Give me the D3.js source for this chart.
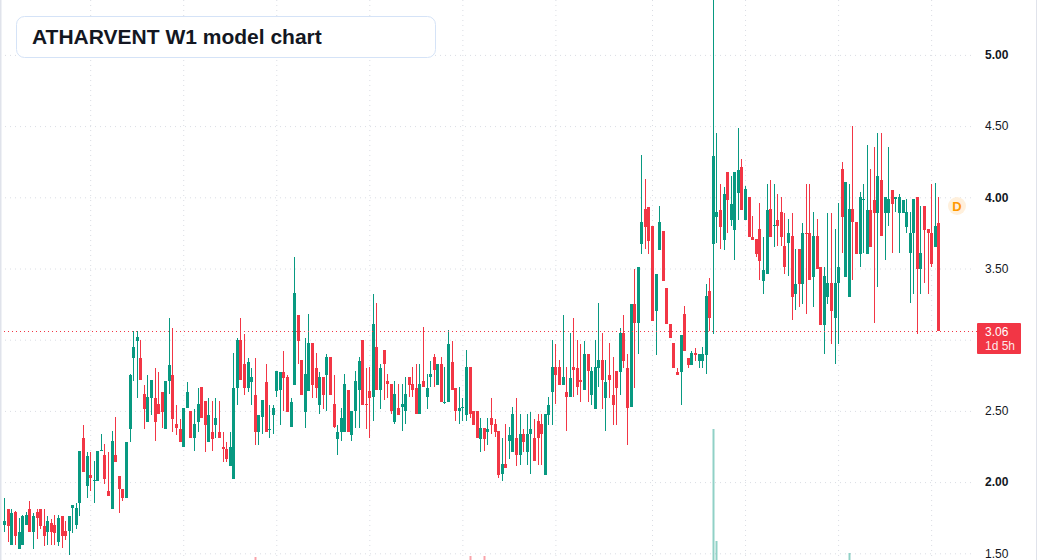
<!DOCTYPE html>
<html>
<head>
<meta charset="utf-8">
<script src="https://cdn.jsdelivr.net/npm/d3@7"></script>
<style>
  html, body { margin: 0; padding: 0; background: #fff; overflow: hidden; }
  svg { display: block; font-family: "Liberation Sans", Arial, sans-serif; }
</style>
</head>
<body>
<div id="chart"></div>
<script>
// weekly bars, first bar dated Sun 19 Jul 2020
const firstWeek = Date.UTC(2020, 6, 19);
const title = 'ATHARVENT W1 model chart';
const countdown = '1d 5h';
const priceTicks = [1.5, 2, 2.5, 3, 3.5, 4, 4.5, 5];

const opens = [
  1.70,1.81,1.56,1.79,1.53,1.56,1.70,1.81,1.65,1.79,
  1.81,1.69,1.65,1.71,1.70,1.58,1.76,1.66,1.66,1.82,
  1.70,1.85,2.31,1.97,2.05,2.01,2.01,2.22,2.19,1.94,
  1.81,2.19,2.04,1.95,1.89,2.37,2.875,2.99,2.87,2.62,
  2.42,2.59,2.59,2.55,2.63,2.37,2.71,2.75,2.41,2.37,
  2.25,2.52,2.50,2.31,2.42,2.67,2.57,2.28,2.35,2.40,
  2.35,2.25,2.23,2.11,2.02,2.66,3.00,2.83,2.66,2.70,
  2.61,2.35,2.46,2.70,2.37,2.47,2.64,2.65,2.77,2.74,
  2.39,2.68,3.17,2.86,2.49,2.64,2.98,2.80,2.54,2.74,
  2.75,2.88,2.55,2.30,2.35,2.35,2.65,2.33,2.50,2.65,
  3.00,2.55,2.64,2.60,2.95,2.65,2.93,2.71,2.69,2.42,
  2.52,2.53,2.50,2.74,2.69,2.66,2.48,2.71,2.60,2.74,
  2.88,2.68,2.83,2.56,2.56,2.84,2.66,2.50,2.52,2.47,
  2.81,2.50,2.50,2.30,2.38,2.35,2.45,2.41,2.36,2.06,
  2.13,2.29,2.21,2.31,2.19,2.34,2.21,2.34,2.31,2.43,
  2.41,2.05,2.47,2.63,2.81,2.81,2.68,2.63,2.60,2.81,
  2.80,2.72,2.65,2.90,2.61,2.51,2.80,2.86,2.59,2.75,
  2.61,2.78,2.77,3.05,2.80,2.53,3.25,3.12,3.67,3.92,
  3.93,3.80,3.20,3.63,3.76,3.36,3.11,2.98,2.77,2.77,
  3.18,2.87,2.82,2.91,2.85,2.85,2.89,3.34,3.67,3.86,
  3.91,3.70,4.18,3.84,3.77,4.03,4.21,3.84,4.00,3.72,
  3.71,3.78,3.41,3.46,3.92,3.80,3.84,3.90,3.66,3.68,
  3.73,3.32,3.64,3.39,3.75,3.75,3.44,3.73,3.51,3.10,
  3.30,3.40,3.15,3.40,4.20,3.44,3.30,3.92,3.83,3.60,
  3.98,3.60,3.91,3.98,3.89,4.12,3.89,3.89,4.05,3.99,
  3.89,3.89,3.79,3.61,3.75,4.00,3.50,3.94,3.78,3.75,
  3.65,3.82
];
const highs = [
  1.89,1.81,1.81,1.80,1.75,1.77,1.79,1.87,1.78,1.81,
  1.81,1.81,1.76,1.74,1.77,1.77,1.76,1.73,1.76,1.84,
  1.85,2.22,2.40,2.21,2.21,2.15,2.22,2.34,2.27,2.21,
  2.36,2.46,2.04,1.95,2.28,2.76,3.06,3.06,3.00,2.68,
  2.75,2.72,2.80,2.77,2.63,2.71,3.15,3.08,2.54,2.44,
  2.52,2.70,2.50,2.51,2.66,2.67,2.57,2.59,2.57,2.59,
  2.57,2.35,2.28,2.35,2.91,3.01,3.15,3.04,2.87,2.80,
  2.87,2.47,2.58,2.83,2.54,2.54,2.78,2.77,2.92,2.75,
  2.59,3.58,3.17,2.86,3.01,3.18,2.98,2.91,2.77,2.74,
  2.90,2.88,2.75,2.40,2.52,2.76,2.65,2.50,2.78,2.88,
  3.00,2.80,2.81,3.32,3.26,2.83,2.93,2.76,2.69,2.71,
  2.69,2.69,2.74,2.74,2.81,2.83,2.83,3.09,2.76,2.85,
  2.90,2.83,2.88,2.81,3.07,2.99,2.66,2.67,2.59,2.93,
  2.81,2.50,2.50,2.45,2.38,2.45,2.59,2.44,2.36,2.31,
  2.41,2.39,2.53,2.59,2.48,2.37,2.48,2.49,2.44,2.48,
  2.48,2.48,2.60,3.00,2.97,2.86,3.17,2.81,3.05,3.15,
  3.00,2.97,2.99,2.90,2.81,3.00,3.26,3.05,2.86,2.98,
  2.88,2.78,3.08,3.17,2.90,3.25,3.50,3.51,4.30,4.13,
  3.93,3.80,3.46,3.94,3.76,3.36,3.11,2.98,2.80,3.03,
  3.24,2.87,2.92,2.94,2.90,2.95,3.39,3.43,5.60,4.45,
  4.09,4.07,4.18,4.15,4.18,4.49,4.27,4.08,4.00,3.87,
  3.71,3.96,3.72,4.09,4.12,4.09,4.02,4.00,3.89,3.85,
  3.89,3.64,3.64,3.82,4.09,4.09,3.90,3.85,3.51,3.51,
  3.89,3.89,3.78,3.96,4.25,4.11,4.09,4.50,3.83,4.04,
  4.09,4.37,4.20,4.35,4.45,4.45,4.00,4.35,4.05,4.00,
  4.02,3.98,3.99,3.90,3.99,4.00,3.94,3.94,3.78,4.09,
  4.10,4.00
];
const lows = [
  1.65,1.58,1.56,1.56,1.53,1.56,1.70,1.65,1.53,1.60,
  1.67,1.55,1.56,1.56,1.56,1.55,1.54,1.59,1.49,1.64,
  1.67,1.76,2.07,1.89,1.94,1.85,2.01,2.22,1.99,1.90,
  1.81,2.14,1.78,1.87,1.89,2.28,2.71,2.59,2.72,2.37,
  2.42,2.47,2.29,2.48,2.38,2.37,2.62,2.35,2.33,2.28,
  2.25,2.52,2.31,2.22,2.35,2.45,2.21,2.28,2.22,2.31,
  2.31,2.14,2.14,2.11,2.02,2.54,2.72,2.61,2.63,2.54,
  2.26,2.26,2.34,2.35,2.31,2.34,2.60,2.40,2.50,2.49,
  2.39,2.68,2.83,2.61,2.38,2.64,2.59,2.59,2.48,2.51,
  2.50,2.61,2.38,2.19,2.29,2.35,2.35,2.29,2.38,2.38,
  2.54,2.37,2.31,2.43,2.65,2.51,2.58,2.59,2.48,2.41,
  2.47,2.36,2.41,2.60,2.60,2.48,2.48,2.67,2.51,2.67,
  2.67,2.68,2.56,2.55,2.56,2.65,2.43,2.41,2.43,2.43,
  2.45,2.40,2.31,2.21,2.22,2.26,2.34,2.32,2.03,2.01,
  2.10,2.16,2.21,2.11,2.12,2.21,2.12,2.06,2.15,2.12,
  2.12,2.05,2.40,2.40,2.55,2.68,2.68,2.36,2.60,2.60,
  2.61,2.56,2.65,2.56,2.54,2.51,2.67,2.51,2.36,2.59,
  2.40,2.40,2.61,2.80,2.26,2.53,2.66,2.90,3.60,3.64,
  3.60,3.13,2.89,3.63,3.41,3.11,3.01,2.80,2.75,2.54,
  2.92,2.80,2.82,2.85,2.80,2.80,2.76,3.06,3.04,3.68,
  3.64,3.63,3.75,3.80,3.56,3.84,3.91,3.84,3.72,3.70,
  3.58,3.42,3.32,3.46,3.72,3.65,3.66,3.66,3.46,3.45,
  3.14,3.21,3.23,3.25,3.18,3.42,3.23,3.50,3.10,2.90,
  3.25,2.97,2.83,2.97,3.61,3.44,3.30,3.42,3.60,3.51,
  3.61,3.60,3.65,3.12,3.37,3.73,3.56,3.80,3.61,3.90,
  3.61,3.89,3.75,3.26,3.32,3.04,3.32,3.40,3.32,3.51,
  3.65,3.06
];
const closes = [
  1.73,1.69,1.78,1.62,1.65,1.76,1.77,1.65,1.76,1.75,
  1.69,1.62,1.73,1.65,1.64,1.75,1.62,1.62,1.76,1.84,
  1.82,2.22,2.07,2.18,2.03,2.015,2.22,2.225,2.02,1.90,
  2.29,2.14,1.95,1.89,2.28,2.75,2.95,3.02,2.72,2.51,
  2.60,2.72,2.42,2.48,2.49,2.71,2.82,2.44,2.38,2.28,
  2.52,2.63,2.31,2.41,2.55,2.45,2.40,2.47,2.30,2.45,
  2.31,2.23,2.16,2.25,2.66,3.00,2.72,2.66,2.84,2.74,
  2.35,2.47,2.58,2.35,2.375,2.52,2.78,2.77,2.73,2.49,
  2.56,3.33,2.99,2.61,2.76,2.98,2.68,2.66,2.74,2.61,
  2.88,2.61,2.39,2.35,2.45,2.69,2.35,2.50,2.71,2.85,
  2.54,2.54,2.59,3.11,2.65,2.80,2.83,2.69,2.50,2.62,
  2.47,2.55,2.62,2.68,2.65,2.48,2.69,2.67,2.66,2.76,
  2.79,2.83,2.56,2.565,2.97,2.65,2.50,2.52,2.525,2.81,
  2.48,2.40,2.31,2.38,2.30,2.37,2.40,2.35,2.05,2.13,
  2.10,2.33,2.48,2.19,2.34,2.28,2.34,2.37,2.15,2.31,
  2.34,2.48,2.54,2.81,2.75,2.68,2.74,2.60,2.73,2.79,
  2.67,2.70,2.90,2.78,2.78,2.81,2.86,2.72,2.70,2.72,
  2.54,2.66,3.05,2.85,2.52,3.25,3.12,3.51,3.83,3.79,
  3.69,3.13,3.46,3.83,3.41,3.11,3.01,2.80,2.75,3.03,
  2.92,2.82,2.91,2.89,2.90,2.90,3.31,3.15,4.29,3.90,
  3.79,4.02,3.98,3.95,4.18,4.19,3.91,4.06,3.72,3.70,
  3.60,3.55,3.49,3.91,3.72,3.805,3.80,3.72,3.51,3.75,
  3.30,3.39,3.39,3.75,3.74,3.42,3.73,3.50,3.10,3.45,
  3.40,3.20,3.40,3.51,3.86,4.11,3.92,3.83,3.60,4.00,
  3.985,3.91,3.65,3.89,4.15,3.73,4.00,3.99,3.95,4.00,
  4.00,3.98,3.90,3.75,3.99,3.50,3.61,3.77,3.75,3.53,
  3.80,3.06
];
// volume (relative units); most bars sit below the visible area
const volumes = [
  6,5,7,6,5,6,4,5,6,5,
  4,5,4,4,5,6,5,4,7,5,
  6,14,15,10,8,7,8,9,8,7,
  12,13,8,6,9,16,14,12,9,8,
  7,6,8,6,5,7,13,12,6,5,
  6,6,5,5,6,5,5,4,4,5,
  4,4,4,5,11,15,12,8,6,6,
  25,6,5,7,4,4,6,5,6,5,
  4,18,10,7,8,9,7,6,5,5,
  6,6,5,5,4,6,5,4,6,7,
  8,6,6,14,10,6,7,5,5,5,
  4,4,5,4,4,5,5,9,4,4,
  5,4,5,4,9,6,5,4,4,7,
  26,5,4,4,26,4,4,4,6,5,
  5,4,6,6,5,4,5,5,4,5,
  5,7,6,12,9,6,10,6,8,9,
  8,7,8,6,6,9,12,9,7,6,
  6,6,9,8,8,14,13,12,18,14,
  10,12,9,11,8,7,6,6,4,8,
  7,4,4,3,3,4,10,9,153,41,
  15,12,11,9,11,14,10,8,8,6,
  6,8,7,11,9,8,7,7,7,6,
  9,6,6,8,10,9,8,6,8,9,
  8,9,10,9,12,14,29,13,7,8,
  7,10,8,11,12,10,6,8,6,4,
  5,4,4,7,7,9,6,6,5,7,
  6,8
];

const WIDTH = 1037;
const HEIGHT = 560;
const PLOT_RIGHT = 975;
const UP = '#089981';
const DOWN = '#f23645';
const GRID = '#dadde4';

const dates = opens.map((_, i) => d3.utcWeek.offset(new Date(firstWeek), i));
const bars = dates.map((date, i) => ({
  i, date, open: opens[i], high: highs[i], low: lows[i], close: closes[i], volume: volumes[i]
}));
const last = bars[bars.length - 1];

const x = d3.scaleLinear().domain([0, bars.length - 1]).range([4.3, 938.3]);
const y = d3.scaleLinear().domain([1.5, 5]).range([553.3, 54.9]);
const yVol = d3.scaleLinear().domain([0, 160]).range([582, 422]);

const colorOf = d => (d.close >= d.open ? UP : DOWN);
const cx = d => Math.round(x(d.i));

const svg = d3.select('#chart').append('svg')
  .attr('width', WIDTH)
  .attr('height', HEIGHT);

// half-year grid: first bar on or after 1 Jan / 1 Jul
const halfYears = d3.utcMonth.every(6).range(dates[0], dates[dates.length - 1]);
const gridIdx = halfYears.map(t => d3.bisectLeft(dates, t));

svg.append('g')
  .attr('class', 'xgrid')
  .call(d3.axisBottom(x).tickValues(gridIdx).tickSize(HEIGHT).tickFormat(''))
  .call(g => g.select('.domain').remove())
  .call(g => g.selectAll('.tick line')
    .attr('stroke', GRID)
    .attr('stroke-dasharray', '1,4'));

svg.append('g')
  .attr('class', 'ygrid')
  .call(d3.axisRight(y).tickValues(priceTicks).tickSize(PLOT_RIGHT).tickFormat(''))
  .call(g => g.select('.domain').remove())
  .call(g => g.selectAll('.tick line')
    .attr('stroke', GRID)
    .attr('stroke-dasharray', '1,4'));

// volume
svg.append('g')
  .attr('class', 'volume')
  .selectAll('rect')
  .data(bars)
  .join('rect')
  .attr('x', d => cx(d) - 0.5)
  .attr('y', d => Math.round(yVol(d.volume)))
  .attr('width', 2)
  .attr('height', d => yVol(0) - Math.round(yVol(d.volume)))
  .attr('fill', colorOf)
  .attr('fill-opacity', 0.45);

// candles
const candles = svg.append('g')
  .attr('class', 'candles')
  .selectAll('g')
  .data(bars)
  .join('g')
  .attr('fill', colorOf);

candles.append('rect')
  .attr('x', d => cx(d))
  .attr('y', d => Math.round(y(d.high)))
  .attr('width', 1)
  .attr('height', d => Math.max(1, Math.round(y(d.low)) - Math.round(y(d.high))));

candles.append('rect')
  .attr('x', d => cx(d) - 1)
  .attr('y', d => Math.round(y(Math.max(d.open, d.close))))
  .attr('width', 3)
  .attr('height', d => Math.max(1,
    Math.round(y(Math.min(d.open, d.close))) - Math.round(y(Math.max(d.open, d.close)))));

// last price line
const lastY = Math.round(y(last.close)) + 0.5;
svg.append('line')
  .attr('x1', 0)
  .attr('x2', 977)
  .attr('y1', lastY)
  .attr('y2', lastY)
  .attr('stroke', colorOf(last))
  .attr('stroke-dasharray', '1,3');

// price scale labels (those under the last-price badge are hidden, as on the source)
const labelTicks = priceTicks.filter(v => Math.abs(y(v) - (lastY + 7)) > 22);
svg.append('g')
  .attr('class', 'yaxis')
  .attr('transform', 'translate(982,0)')
  .call(d3.axisRight(y).tickValues(labelTicks).tickSize(0).tickPadding(3).tickFormat(d3.format('.2f')))
  .call(g => g.select('.domain').remove())
  .call(g => g.selectAll('text')
    .attr('fill', '#131722')
    .attr('font-size', 12)
    .attr('font-family', '"Liberation Sans", Arial, sans-serif')
    .attr('font-weight', d => (Number.isInteger(d) ? 700 : 400)));

// last price badge
const badge = svg.append('g').attr('class', 'last-price');
badge.append('rect')
  .attr('x', 977)
  .attr('y', lastY - 8.5)
  .attr('width', 44)
  .attr('height', 31)
  .attr('rx', 1)
  .attr('fill', colorOf(last));
badge.append('text')
  .attr('x', 985)
  .attr('y', lastY + 4.5)
  .attr('fill', '#fff')
  .attr('font-size', 12)
  .text(d3.format('.2f')(last.close));
badge.append('text')
  .attr('x', 985)
  .attr('y', lastY + 18.5)
  .attr('fill', '#fff')
  .attr('fill-opacity', 0.9)
  .attr('font-size', 12)
  .text(countdown);

// dividend marker
const marker = svg.append('g')
  .attr('transform', `translate(957,${Math.round(y(3.94))})`);
marker.append('circle')
  .attr('r', 9)
  .attr('fill', '#fff0dc');
marker.append('text')
  .attr('text-anchor', 'middle')
  .attr('dy', '0.36em')
  .attr('font-size', 13)
  .attr('font-weight', 600)
  .attr('fill', '#ff9800')
  .text('D');

// title card
svg.append('rect')
  .attr('x', 16.5)
  .attr('y', 16.5)
  .attr('width', 419)
  .attr('height', 41)
  .attr('rx', 8)
  .attr('fill', '#fff')
  .attr('stroke', '#d5e3f7');
svg.append('text')
  .attr('x', 32)
  .attr('y', 44)
  .attr('font-size', 21)
  .attr('font-weight', 700)
  .attr('fill', '#131722')
  .text(title);

// pane borders
svg.append('rect').attr('x', 0).attr('y', 0).attr('width', 1.5).attr('height', HEIGHT).attr('fill', '#e0e3eb');
svg.append('rect').attr('x', 1036).attr('y', 0).attr('width', 1).attr('height', HEIGHT).attr('fill', '#e0e3eb');
</script>
</body>
</html>
